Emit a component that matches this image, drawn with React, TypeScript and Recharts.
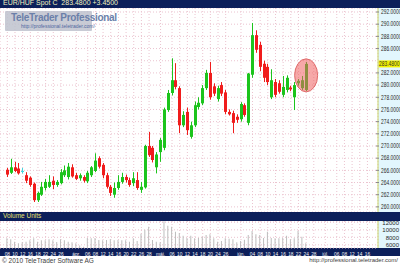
import {
  Bar,
  CartesianGrid,
  ComposedChart,
  ReferenceDot,
  ReferenceLine,
  XAxis,
  YAxis
} from "recharts";

// weekdays, Mar 8 → Jul 20 2010
const days = [
  "03-08", "03-09", "03-10", "03-11", "03-12", "03-15", "03-16", "03-17", "03-18", "03-19",
  "03-22", "03-23", "03-24", "03-25", "03-26", "03-29", "03-30", "03-31",
  "04-01", "04-02", "04-05", "04-06", "04-07", "04-08", "04-09", "04-12", "04-13", "04-14",
  "04-15", "04-16", "04-19", "04-20", "04-21", "04-22", "04-23", "04-26", "04-27", "04-28",
  "04-29", "04-30",
  "05-03", "05-04", "05-05", "05-06", "05-07", "05-10", "05-11", "05-12", "05-13", "05-14",
  "05-17", "05-18", "05-19", "05-20", "05-21", "05-24", "05-25", "05-26", "05-27", "05-28",
  "05-31",
  "06-01", "06-02", "06-03", "06-04", "06-07", "06-08", "06-09", "06-10", "06-11", "06-14",
  "06-15", "06-16", "06-17", "06-18", "06-21", "06-22", "06-23", "06-24", "06-25", "06-28",
  "06-29", "06-30",
  "07-01", "07-02", "07-05", "07-06", "07-07", "07-08", "07-09", "07-12", "07-13", "07-14",
  "07-15", "07-16", "07-19", "07-20"
];

const open = [
  266.1, 265.6, 266.5, 266.3, 265.9, 265.2, 264.8, 263.8, 261.1, 262.0,
  263.1, 263.3, 264.3, 263.6, 263.9, 265.2, 264.9, 266.5, 265.2, 264.7,
  264.9, 264.2, 265.2, 265.9, 268.0, 266.9, 265.2, 263.3, 262.0, 263.1,
  264.1, 264.9, 264.4, 263.9, 264.4, 262.8, 263.2, 270.0, 269.7, 266.5,
  269.0, 269.7, 275.9, 278.7, 280.8, 279.5, 273.4, 275.6, 271.5, 273.4,
  276.4, 277.0, 279.5, 282.0, 279.8, 277.7, 280.0, 278.8, 275.6, 275.4,
  274.8, 274.4, 276.7, 273.8, 281.7, 288.2, 286.6, 283.5, 283.0, 278.0,
  280.5, 280.3, 278.4, 279.2, 279.6, 278.0, 280.3, 279.5, 279.2
];
const high = [
  266.4, 267.9, 267.4, 267.2, 266.4, 265.7, 265.0, 264.0, 262.5, 264.1,
  264.6, 265.2, 265.0, 264.4, 266.2, 266.8, 267.2, 267.0, 265.6, 265.5,
  265.2, 265.9, 266.7, 268.8, 268.3, 267.2, 265.6, 263.6, 264.0, 265.2,
  265.6, 265.3, 264.8, 265.7, 265.7, 264.1, 270.2, 272.3, 270.0, 269.0,
  271.3, 276.3, 279.2, 284.4, 283.6, 279.8, 275.7, 276.3, 274.0, 277.3,
  278.0, 280.0, 282.5, 283.8, 280.3, 279.9, 280.5, 279.2, 276.0, 275.8,
  275.2, 277.2, 277.0, 282.0, 290.2, 289.0, 287.1, 284.0, 283.5, 282.6,
  281.0, 280.8, 281.5, 281.6, 279.9, 280.5, 281.0, 281.5, 283.8
];
const low = [
  264.9, 265.4, 265.7, 265.3, 265.5, 263.9, 263.3, 260.8, 260.8, 261.8,
  262.7, 263.1, 262.9, 263.3, 263.7, 264.9, 264.5, 264.8, 264.4, 264.3,
  264.0, 263.9, 264.9, 265.7, 266.3, 264.7, 263.0, 261.8, 261.5, 262.8,
  263.8, 264.0, 263.3, 263.4, 262.8, 262.3, 263.0, 268.2, 267.3, 265.5,
  267.4, 269.3, 275.6, 278.3, 279.3, 272.1, 273.1, 271.8, 271.2, 273.1,
  276.0, 276.7, 279.2, 277.6, 278.2, 277.3, 278.2, 275.2, 275.0, 272.1,
  273.8, 274.0, 274.8, 273.4, 281.2, 285.3, 282.3, 280.5, 280.0, 277.7,
  278.0, 278.6, 278.0, 278.8, 279.0, 275.9, 279.9, 279.2, 279.0
];
const close = [
  265.3, 266.5, 265.9, 265.5, 265.9, 264.3, 263.6, 261.1, 262.3, 263.3,
  264.1, 264.1, 263.6, 264.1, 265.7, 266.0, 266.6, 265.0, 264.6, 265.2,
  264.3, 265.6, 266.5, 267.6, 266.6, 265.2, 263.3, 262.3, 263.1, 264.1,
  264.9, 264.4, 263.6, 264.7, 263.1, 263.3, 270.0, 268.5, 267.7, 268.6,
  271.0, 276.0, 278.7, 280.8, 279.7, 273.4, 275.1, 272.6, 273.4, 276.7,
  277.1, 279.5, 282.0, 278.0, 278.6, 279.5, 278.6, 275.6, 275.2, 273.8,
  274.3, 276.9, 275.1, 281.9, 288.2, 285.8, 283.0, 281.2, 280.5, 280.8,
  278.4, 278.9, 279.7, 281.2, 279.3, 280.0, 280.7, 280.8, 283.48
];
const volume = [
  7730, 7470, 6830, 6400, 6670, 6830, 7200, 7730, 6830, 7200,
  7200, 7470, 7200, 6750, 7470, 7200, 6830, 6670, 6400, 5800,
  5500, 7800, 7730, 7800, 7270, 7200, 7270, 7470, 7200, 7270,
  7200, 7200, 6830, 7730, 7000, 8970, 10050, 10830, 7270, 6830,
  6670, 12300, 11100, 10830, 9500, 9150, 8450, 7800, 8450, 7730,
  7800, 8160, 8600, 8800, 7730, 6830, 7000, 7730, 7600, 7470,
  6670, 7000, 7330, 8610, 9670, 8800, 8600, 7800, 9500, 7800,
  7730, 7730, 7800, 8450, 7470, 7730, 9700, 8160, 6400
];

const tickLabels: Record<string, string> = {
  "03-08": "08", "03-10": "10", "03-12": "12", "03-16": "16", "03-18": "18",
  "03-22": "22", "03-24": "24", "03-26": "26", "04-01": "ápr.", "04-06": "06",
  "04-08": "08", "04-12": "12", "04-14": "14", "04-16": "16", "04-20": "20",
  "04-22": "22", "04-26": "26", "04-28": "28", "05-03": "máj.", "05-06": "06",
  "05-10": "10", "05-12": "12", "05-14": "14", "05-18": "18", "05-20": "20",
  "05-24": "24", "05-26": "26", "06-01": "jún.", "06-04": "04", "06-08": "08",
  "06-10": "10", "06-14": "14", "06-16": "16", "06-18": "18", "06-22": "22",
  "06-24": "24", "06-28": "28", "07-01": "júl.", "07-06": "06", "07-08": "08",
  "07-12": "12", "07-14": "14", "07-16": "16"
};
const tickDays = Object.keys(tickLabels);

const priceTicks = [260, 262, 264, 266, 268, 270, 272, 274, 276, 278, 280, 282, 284, 286, 288, 290, 292];
const volumeTicks = [6000, 8000, 10000, 12000];

const lastClose = close[close.length - 1];
const lastDay = days[close.length - 1];

const rows = days.map((day, i) =>
  i < open.length
    ? { day, o: open[i], h: high[i], l: low[i], c: close[i], range: [low[i], high[i]], vol: volume[i] }
    : { day, range: null, vol: null }
);

const FONT = "'Liberation Sans', Arial, sans-serif";
const NAVY = "#0c1f5a";

const Candle = (props: any) => {
  const { x, y, width, height, payload } = props;
  if (!payload || payload.o == null) return null;
  const { o, h, l, c } = payload;
  const k = h === l ? 0 : Math.abs(height) / (h - l);
  const py = (v: number) => y + (h - v) * k;
  const cx = Math.round(x + width / 2) + 0.5;
  const color = c > o ? "#1cc41c" : c < o ? "#f01c1c" : "#3fd8e0";
  const top = py(Math.max(o, c));
  const bodyH = Math.max(1, py(Math.min(o, c)) - top);
  return (
    <g>
      <line x1={cx} x2={cx} y1={py(h)} y2={py(l)} stroke={color} strokeWidth={1} />
      <rect x={cx - 1.5} y={top} width={3} height={bodyH} fill={color} />
    </g>
  );
};

// narrow axis text: squeezed horizontally like the terminal font
const Narrow = ({ x, y, children, fill = "#2a2a2a" }: any) => (
  <g transform={`translate(${x},${y}) scale(0.7,1)`}>
    <text x={0} y={0} fontSize={7} fontFamily={FONT} fill={fill}>
      {children}
    </text>
  </g>
);

const PriceTick = (props: any) => {
  const { x, y, payload } = props;
  // the last-price tag covers the neighbouring label
  if (Math.abs(payload.value - lastClose) < 1) return null;
  return (
    <g>
      <line x1={x - 4} x2={x - 1} y1={y} y2={y} stroke="#8a8a8a" />
      <Narrow x={x + 1} y={y + 2.3}>{payload.value.toFixed(4)}</Narrow>
    </g>
  );
};

const VolTick = (props: any) => {
  const { y, payload } = props;
  return (
    <text x={399} y={y + 2.2} fontSize={6} fontFamily={FONT} fill="#2a2a2a" textAnchor="end">
      {payload.value}
    </text>
  );
};

const DateTick = (props: any) => {
  const { x, y, payload } = props;
  const label = tickLabels[payload.value];
  return (
    <g transform={`translate(${x},${y + 6}) scale(0.8,1)`}>
      <text x={0} y={0} fontSize={6} fontFamily={FONT} fill="#f4f4f4" textAnchor="middle">
        {label}
      </text>
    </g>
  );
};

const PriceTag = (props: any) => {
  const { x, y, width } = props.viewBox;
  const left = x + width;
  return (
    <g>
      <rect x={left + 0.5} y={y - 3.5} width={21.5} height={7} fill="#f2f200" />
      <Narrow x={left + 1} y={y + 2.4} fill="#333">{lastClose.toFixed(4)}</Narrow>
    </g>
  );
};

const Highlight = (props: any) => (
  <ellipse cx={props.cx} cy={props.cy} rx={11.5} ry={16.5} fill="rgba(238,96,96,0.55)" stroke="#e06a6a" strokeWidth={1} />
);

export default function App() {
  return (
    <div style={{ position: "fixed", left: 0, top: 0, width: 400, height: 266, background: "#fff", overflow: "hidden", fontFamily: FONT }}>
      {/* title bar */}
      <div style={{ position: "absolute", left: 0, top: 0, width: 400, height: 8, background: NAVY }}>
        <span style={{ position: "absolute", left: 3, top: -1, fontSize: 7, color: "#f2f2c0", whiteSpace: "nowrap" }}>
          EUR/HUF Spot C&nbsp; 283.4800 +3.4500
        </span>
      </div>
      {/* right axis strips */}
      <div style={{ position: "absolute", left: 378, top: 8, width: 22, height: 204, background: "#e2f6fd" }} />
      <div style={{ position: "absolute", left: 378, top: 221, width: 22, height: 27, background: "#e2f6fd" }} />

      <div style={{ position: "absolute", left: 0, top: 8 }}>
        <ComposedChart width={400} height={204} data={rows} margin={{ top: 0, right: 0, bottom: 0, left: 0 }}>
          <CartesianGrid stroke="#ebc3cf" strokeDasharray="1 2" />
          <XAxis dataKey="day" hide ticks={tickDays} interval={0} padding={{ left: 5.4, right: 1 }} />
          <YAxis
            orientation="right"
            width={22}
            domain={[259.16, 292.66]}
            ticks={priceTicks}
            interval={0}
            allowDataOverflow
            axisLine={{ stroke: "#c9d46a" }}
            tickLine={false}
            tickSize={0}
            tick={<PriceTick />}
          />
          <Bar dataKey="range" shape={<Candle />} barSize={3} isAnimationActive={false} />
          <ReferenceLine y={lastClose} stroke="none" label={<PriceTag />} />
          <ReferenceDot x={lastDay} y={281.6} shape={<Highlight />} />
        </ComposedChart>
      </div>

      {/* logo */}
      <div style={{ position: "absolute", left: 5, top: 11, width: 87, height: 20, background: "rgba(190,194,206,0.85)", borderRadius: 1 }}>
        <div style={{ position: "absolute", left: 6, top: 1, fontSize: 10, fontWeight: "bold", color: "#6b7fa9", whiteSpace: "nowrap", letterSpacing: -0.3 }}>
          TeleTrader Professional
        </div>
        <div style={{ position: "absolute", left: 16, top: 12, fontSize: 5, color: "#4f67a0", whiteSpace: "nowrap" }}>
          http://professional.teletrader.com/
        </div>
      </div>

      {/* volume band */}
      <div style={{ position: "absolute", left: 0, top: 212, width: 400, height: 9, background: NAVY }}>
        <span style={{ position: "absolute", left: 3, top: 0, fontSize: 6.5, color: "#e8e070", whiteSpace: "nowrap" }}>Volume Units</span>
      </div>
      <div style={{ position: "absolute", left: 0, top: 248, width: 400, height: 8, background: NAVY }} />

      <div style={{ position: "absolute", left: 0, top: 221 }}>
        <ComposedChart width={400} height={35} data={rows} margin={{ top: 0, right: 0, bottom: 0, left: 0 }}>
          <CartesianGrid stroke="#ebc3cf" strokeDasharray="1 2" />
          <XAxis
            dataKey="day"
            ticks={tickDays}
            interval={0}
            padding={{ left: 5.4, right: 1 }}
            height={8}
            axisLine={false}
            tickLine={false}
            tickSize={0}
            tick={<DateTick />}
          />
          <YAxis
            orientation="right"
            width={22}
            domain={[5150, 12350]}
            ticks={volumeTicks}
            interval={0}
            allowDataOverflow
            axisLine={{ stroke: "#c9d46a" }}
            tickLine={false}
            tickSize={0}
            tick={<VolTick />}
          />
          <Bar dataKey="vol" fill="#bdbdbd" barSize={1} isAnimationActive={false} />
        </ComposedChart>
      </div>

      {/* footer */}
      <div style={{ position: "absolute", left: 2, top: 257, fontSize: 6.5, color: "#404040", whiteSpace: "nowrap" }}>
        © 2010 TeleTrader Software AG
      </div>
      <div style={{ position: "absolute", right: 2, top: 257, fontSize: 6, color: "#404040", whiteSpace: "nowrap" }}>
        http://professional.teletrader.com/
      </div>
    </div>
  );
}
